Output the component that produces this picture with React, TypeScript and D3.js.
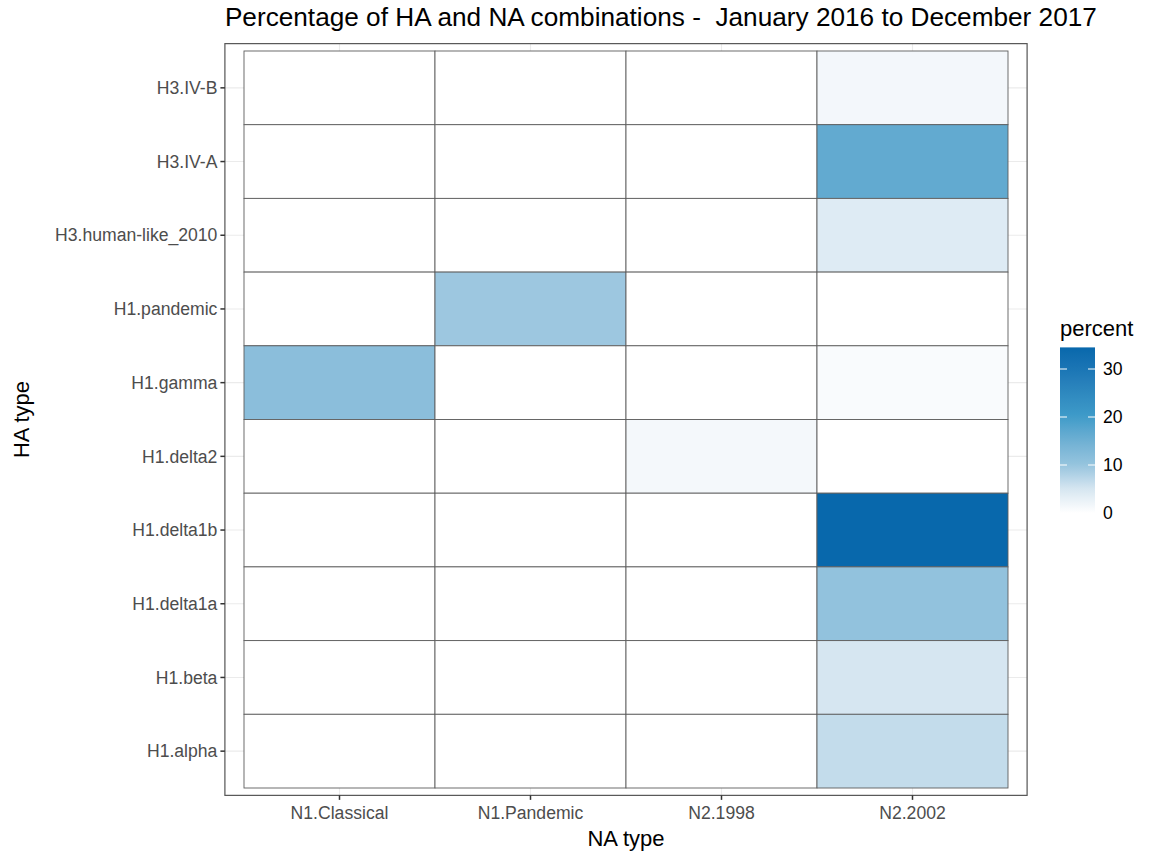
import React from "react";
import * as d3 from "d3";

const naTypes = ["N1.Classical", "N1.Pandemic", "N2.1998", "N2.2002"];
const haTypes = [
  "H3.IV-B",
  "H3.IV-A",
  "H3.human-like_2010",
  "H1.pandemic",
  "H1.gamma",
  "H1.delta2",
  "H1.delta1b",
  "H1.delta1a",
  "H1.beta",
  "H1.alpha",
];
// percent per HA type (same order as haTypes), one array per NA type
const pctN1Classical = [0, 0, 0, 0, 11.5, 0, 0, 0, 0, 0];
const pctN1Pandemic = [0, 0, 0, 9.5, 0, 0, 0, 0, 0, 0];
const pctN21998 = [0, 0, 0, 0, 0, 1.3, 0, 0, 0, 0];
const pctN22002 = [1.5, 16.5, 4, 0, 0.7, 0, 34.5, 10.5, 5, 6.5];
const legendTicks = [0, 10, 20, 30];

const seriesByNA = [pctN1Classical, pctN1Pandemic, pctN21998, pctN22002];

const W = 1157;
const H = 855;
const FONT = "'Liberation Sans', Arial, Helvetica, sans-serif";

export default function App() {
  const x = d3.scaleBand().domain(naTypes).range([244, 1008]).padding(0);
  const y = d3.scaleBand().domain(haTypes).range([51, 788]).padding(0);
  const bw = x.bandwidth();
  const bh = y.bandwidth();
  const panel = {
    x0: 244 - 0.1 * bw,
    x1: 1008 + 0.1 * bw,
    y0: 51 - 0.1 * bh,
    y1: 788 + 0.1 * bh,
  };

  const cells = naTypes.flatMap((na, i) =>
    haTypes.map((ha, j) => ({ na, ha, v: seriesByNA[i][j] }))
  );
  const maxV = d3.max(cells, (d) => d.v) as number;

  const color = d3
    .scaleLinear<string>()
    .domain([0, 5, 10, 20, 30, maxV])
    .range(["#ffffff", "#d6e6f1", "#96c4de", "#3e9cc9", "#1a75b5", "#0868ac"])
    .interpolate(d3.interpolateLab)
    .clamp(true);

  // legend
  const legX = 1060;
  const legW = 35;
  const legScale = d3.scaleLinear().domain([0, maxV]).range([513, 513 - maxV * 4.8]);
  const gradStops = d3.range(0, 21).map((k) => k / 20);

  const tickLen = 4.5;

  return (
    <svg
      width={W}
      height={H}
      style={{ position: "absolute", left: 0, top: 0, background: "#fff" }}
      fontFamily={FONT}
    >
      <defs>
        <linearGradient id="legGrad" x1="0" y1="1" x2="0" y2="0">
          {gradStops.map((t) => (
            <stop key={t} offset={t} stopColor={color(t * maxV)} />
          ))}
        </linearGradient>
      </defs>

      {/* title */}
      <text x={panel.x0} y={26} fontSize={26.2} fill="#000" style={{ whiteSpace: "pre" }}>
        {"Percentage of HA and NA combinations -  January 2016 to December 2017"}
      </text>

      {/* panel background & grid */}
      <rect x={panel.x0} y={panel.y0} width={panel.x1 - panel.x0} height={panel.y1 - panel.y0} fill="#fff" />
      {naTypes.map((na) => (
        <line
          key={"gx" + na}
          x1={(x(na) as number) + bw / 2}
          x2={(x(na) as number) + bw / 2}
          y1={panel.y0}
          y2={panel.y1}
          stroke="#ebebeb"
          strokeWidth={1.1}
        />
      ))}
      {haTypes.map((ha) => (
        <line
          key={"gy" + ha}
          x1={panel.x0}
          x2={panel.x1}
          y1={(y(ha) as number) + bh / 2}
          y2={(y(ha) as number) + bh / 2}
          stroke="#ebebeb"
          strokeWidth={1.1}
        />
      ))}

      {/* tiles */}
      {cells.map((d) => (
        <rect
          key={d.na + d.ha}
          x={x(d.na)}
          y={y(d.ha)}
          width={bw}
          height={bh}
          fill={color(d.v)}
          stroke="#5e5e5e"
          strokeWidth={0.9}
        />
      ))}

      {/* panel border */}
      <rect
        x={panel.x0}
        y={panel.y0}
        width={panel.x1 - panel.x0}
        height={panel.y1 - panel.y0}
        fill="none"
        stroke="#555"
        strokeWidth={1.2}
      />

      {/* y axis */}
      {haTypes.map((ha) => {
        const cy = (y(ha) as number) + bh / 2;
        return (
          <g key={"ty" + ha}>
            <line x1={panel.x0 - tickLen} x2={panel.x0} y1={cy} y2={cy} stroke="#333" strokeWidth={1.5} />
            <text x={panel.x0 - tickLen - 3} y={cy} dy="0.35em" textAnchor="end" fontSize={17.6} fill="#4d4d4d">
              {ha}
            </text>
          </g>
        );
      })}

      {/* x axis */}
      {naTypes.map((na) => {
        const cx = (x(na) as number) + bw / 2;
        return (
          <g key={"tx" + na}>
            <line x1={cx} x2={cx} y1={panel.y1} y2={panel.y1 + tickLen} stroke="#333" strokeWidth={1.5} />
            <text x={cx} y={819} textAnchor="middle" fontSize={17.6} fill="#4d4d4d">
              {na}
            </text>
          </g>
        );
      })}

      {/* axis titles */}
      <text x={(panel.x0 + panel.x1) / 2} y={846} textAnchor="middle" fontSize={22} fill="#000">
        NA type
      </text>
      <text
        transform={`translate(29, ${(panel.y0 + panel.y1) / 2}) rotate(-90)`}
        textAnchor="middle"
        fontSize={22}
        fill="#000"
      >
        HA type
      </text>

      {/* legend */}
      <text x={legX} y={336} fontSize={22} fill="#000">
        percent
      </text>
      <rect
        x={legX}
        y={legScale(maxV)}
        width={legW}
        height={legScale(0) - legScale(maxV)}
        fill="url(#legGrad)"
      />
      {legendTicks.map((t) => (
        <g key={"lt" + t}>
          <line x1={legX} x2={legX + legW / 5} y1={legScale(t)} y2={legScale(t)} stroke="#fff" strokeWidth={1} />
          <line x1={legX + legW - legW / 5} x2={legX + legW} y1={legScale(t)} y2={legScale(t)} stroke="#fff" strokeWidth={1} />
          <text x={legX + legW + 8} y={legScale(t)} dy="0.35em" fontSize={17.6} fill="#000">
            {t}
          </text>
        </g>
      ))}
    </svg>
  );
}
